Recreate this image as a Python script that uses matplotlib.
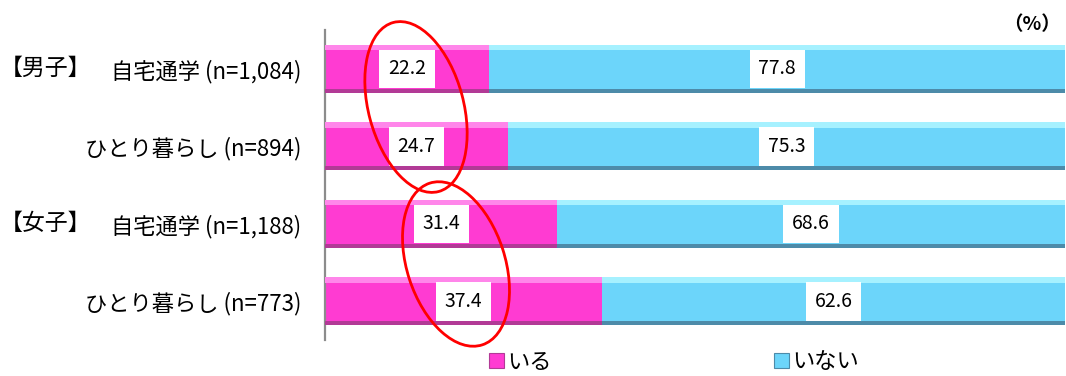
import matplotlib
matplotlib.use("Agg")
import matplotlib.pyplot as plt
from matplotlib.patches import Ellipse, Patch
from matplotlib.transforms import blended_transform_factory

# Data
groups = ['【男子】', '', '【女子】', '']
categories = ['自宅通学 (n=1,084)', 'ひとり暮らし (n=894)',
              '自宅通学 (n=1,188)', 'ひとり暮らし (n=773)']
iru = [22.2, 24.7, 31.4, 37.4]
inai = [77.8, 75.3, 68.6, 62.6]
series_names = ['いる', 'いない']

plt.rcParams['font.family'] = ['Noto Sans CJK JP', 'DejaVu Sans']

W, H = 1066, 376
fig = plt.figure(figsize=(W / 100, H / 100), dpi=100)
ax = fig.add_axes([325 / W, 36 / H, 740 / W, 310 / H])

# colours: main fill, top highlight, bottom shade
pink = ('#FF3BD2', '#FF86EA', '#B23A96')
cyan = ('#6CD5FA', '#A6F1FF', '#4D8BA9')

ypos = list(range(len(categories)))
bar_h = 0.62
top_h = 0.07
bot_h = 0.05


def beveled(vals, lefts, colors):
    main, light, dark = colors
    ax.barh(ypos, vals, left=lefts, height=bar_h, color=main, zorder=2)
    ax.barh([y - bar_h / 2 + top_h / 2 for y in ypos], vals, left=lefts,
            height=top_h, color=light, zorder=3)
    ax.barh([y + bar_h / 2 - bot_h / 2 for y in ypos], vals, left=lefts,
            height=bot_h, color=dark, zorder=3)


beveled(iru, [0] * len(iru), pink)
beveled(inai, iru, cyan)

# value labels in white boxes
for y, a, b in zip(ypos, iru, inai):
    for val, left in ((a, 0), (b, a)):
        ax.text(left + val / 2, y, f'{val:.1f}', ha='center', va='center',
                fontsize=14, color='black', zorder=5,
                bbox=dict(boxstyle='square,pad=0.45', fc='white', ec='none'))

ax.set_xlim(0, 100)
ax.set_ylim(3.5, -0.5)
ax.set_xticks([])
ax.set_yticks(ypos, categories)
ax.tick_params(axis='y', length=0, pad=17, labelsize=16)
for s in ('top', 'right', 'bottom'):
    ax.spines[s].set_visible(False)
ax.spines['left'].set_color('#8C8C8C')
ax.spines['left'].set_linewidth(1.6)

# group labels at the left edge of the figure
tr = blended_transform_factory(fig.transFigure, ax.transData)
for y, g in zip(ypos, groups):
    if g:
        ax.text(0 / W, y, g, transform=tr, ha='left', va='center', fontsize=16.5)

fig.text(1061 / W, 1 - 25 / H, '（%）', ha='right', va='center', fontsize=14,
         fontweight='bold')

# legend
handles = [Patch(facecolor=pink[0], edgecolor=pink[2], linewidth=0.8),
           Patch(facecolor=cyan[0], edgecolor=cyan[2], linewidth=0.8)]
fig.legend(handles, series_names, loc='center', bbox_to_anchor=(674 / W, 1 - 362 / H),
           ncol=2, frameon=False, fontsize=16, handlelength=0.68, handleheight=0.68,
           handletextpad=0.15, columnspacing=10.0, borderpad=0)

# red ellipses highlighting the いる shares
ov = fig.add_axes([0, 0, 1, 1], zorder=10)
ov.set_xlim(0, W)
ov.set_ylim(H, 0)
ov.axis('off')
ellipse_centers = [(416, 107), (456, 264)]
ellipse_sizes = [(95, 175), (98, 170)]
ellipse_angles = [-15, -18]
for (cx, cy), (w, h), ang in zip(ellipse_centers, ellipse_sizes, ellipse_angles):
    ov.add_patch(Ellipse((cx, cy), w, h, angle=ang, fill=False,
                         edgecolor='#FF0000', linewidth=2))

fig.savefig('out.png', dpi=100)
